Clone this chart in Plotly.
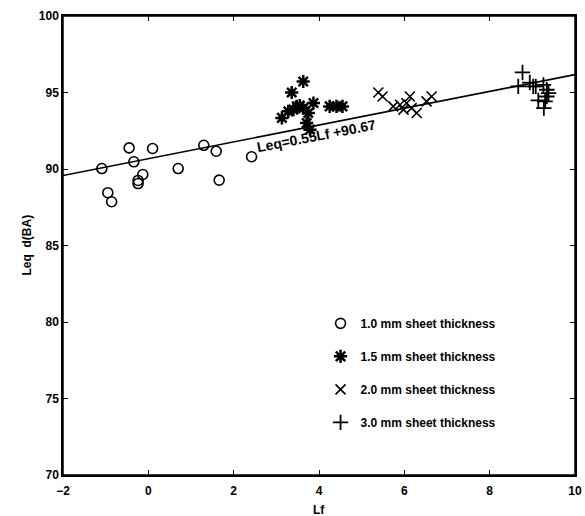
import plotly.graph_objects as go

# 1.0 mm
lf_10 = [-1.09, -0.95, -0.86, -0.45, -0.34, 0.10, -0.13, -0.24, -0.24, 0.70, 1.30, 1.59, 1.66, 2.42]
leq_10 = [90.03, 88.45, 87.86, 91.38, 90.47, 91.34, 89.64, 89.25, 89.05, 90.03, 91.55, 91.16, 89.27, 90.8]
# 1.5 mm
lf_15 = [3.63, 3.36, 3.87, 4.25, 4.41, 4.55, 3.13, 3.28, 3.48, 3.63, 3.40, 3.75, 3.71, 3.79, 3.55]
leq_15 = [95.72, 95.0, 94.31, 94.09, 94.09, 94.09, 93.34, 93.77, 94.09, 93.98, 93.88, 93.66, 93.0, 92.57, 94.15]
# 2.0 mm
lf_20 = [5.39, 5.49, 6.13, 6.64, 6.52, 5.74, 5.90, 5.98, 6.05, 6.29, 6.17]
leq_20 = [95.0, 94.74, 94.74, 94.74, 94.42, 94.09, 94.2, 93.88, 94.3, 93.66, 93.98]
# 3.0 mm
lf_30 = [8.77, 8.67, 8.94, 9.02, 9.26, 9.34, 9.38, 9.34, 9.14, 9.30, 9.27, 9.08]
leq_30 = [96.31, 95.4, 95.65, 95.4, 95.5, 95.18, 94.96, 94.74, 94.48, 94.42, 93.98, 95.4]

fit_slope = 0.55
fit_intercept = 90.67
fit_x = [-2, 10]
fit_y = [fit_slope * v + fit_intercept for v in fit_x]

x_ticks = [-2, 0, 2, 4, 6, 8, 10]
y_ticks = [70, 75, 80, 85, 90, 95, 100]

family = "Liberation Sans, Arial, sans-serif"
font = dict(family=family, size=12, color="black", weight="bold")

fig = go.Figure()
fig.add_trace(go.Scatter(x=fit_x, y=fit_y, mode="lines", line=dict(color="black", width=1.6),
                         showlegend=False, hoverinfo="skip"))
series = [
    (lf_10, leq_10, "circle-open", 10, 1.6, "1.0 mm sheet thickness"),
    (lf_15, leq_15, "asterisk-open", 11, 2.5, "1.5 mm sheet thickness"),
    (lf_20, leq_20, "x-thin-open", 10, 1.6, "2.0 mm sheet thickness"),
    (lf_30, leq_30, "cross-thin-open", 11, 1.8, "3.0 mm sheet thickness"),
]
for i, (xs, ys, sym, sz, lw, name) in enumerate(series):
    fig.add_trace(go.Scatter(x=xs, y=ys, mode="markers", name=name, legendgroup=f"g{i}",
                             marker=dict(symbol=sym, size=sz, color="black",
                                         line=dict(color="black", width=lw))))

fig.add_annotation(x=3.93, y=92.17, text="Leq=0.55Lf +90.67", showarrow=False,
                   textangle=-11, font=dict(family=family, size=14, color="black", weight="bold"))
# axis titles
fig.add_annotation(x=0.5, y=0, xref="paper", yref="paper", yanchor="top", yshift=-26,
                   text="Lf", showarrow=False, font=font)
fig.add_annotation(x=0, y=0.5, xref="paper", yref="paper", xanchor="right", xshift=-28,
                   text="Leq  d(BA)", textangle=-90, showarrow=False, font=font)

axis_common = dict(showline=True, linecolor="black", linewidth=1.5, mirror="ticks",
                   ticks="inside", ticklen=5, tickwidth=1.2, tickcolor="black",
                   showgrid=False, zeroline=False, tickfont=font, automargin=False)
fig.update_xaxes(range=[-2, 10], tickvals=x_ticks, ticklabelstandoff=4, **axis_common)
fig.update_yaxes(range=[70, 100], tickvals=y_ticks, **axis_common)

fig.add_shape(type="rect", xref="paper", yref="paper", x0=0, x1=1, y0=0, y1=1,
              line=dict(color="black", width=1.5), layer="above")

fig.update_layout(
    width=585, height=516,
    margin=dict(l=63, r=10, t=16, b=41),
    plot_bgcolor="white", paper_bgcolor="white",
    font=font,
    legend=dict(x=0.503, y=0.362, xanchor="left", yanchor="top", bgcolor="rgba(0,0,0,0)",
                traceorder="grouped", tracegroupgap=14,
                font=dict(size=12, family=family, weight="bold")),
)
fig.write_html("out.html", config={"displayModeBar": False},
               post_script="document.body.style.margin='0';document.body.style.overflow='hidden';")
